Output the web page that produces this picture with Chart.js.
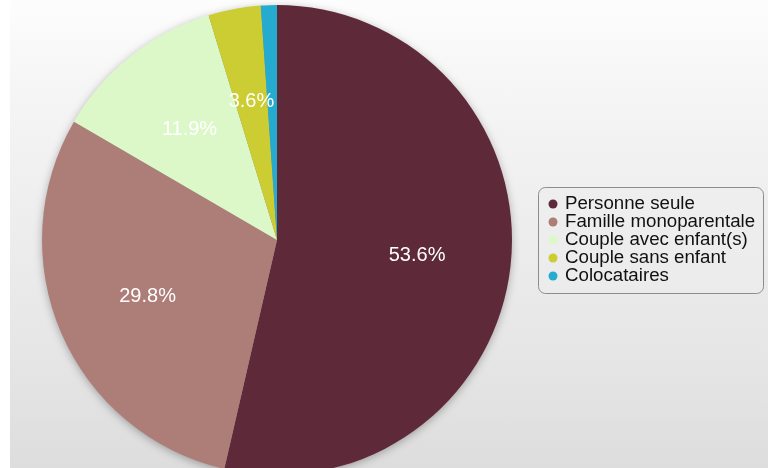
<!DOCTYPE html>
<html>
<head>
<meta charset="utf-8">
<script src="https://cdn.jsdelivr.net/npm/chart.js@4/dist/chart.umd.min.js"></script>
<style>
  html, body { margin: 0; padding: 0; background: #ffffff; overflow: hidden; }
  #bg {
    position: absolute; left: 10px; top: 0; width: 758px; height: 468px;
    background: linear-gradient(to bottom, #fdfdfd 0%, #f5f5f5 20%, #e6e6e6 75%, #dddddd 100%);
  }
  #chart { position: absolute; left: 0; top: 0; }
</style>
</head>
<body>
<div id="bg"></div>
<canvas id="chart" width="768" height="480"></canvas>
<script>
// ===============================
// Data
// ===============================
const labels = [
  "Personne seule",
  "Famille monoparentale",
  "Couple avec enfant(s)",
  "Couple sans enfant",
  "Colocataires",
];
const values = [53.6, 29.8, 11.9, 3.6, 1.1];
const colors = ["#5e2a3a", "#ad7d78", "#ddf8c8", "#cccc33", "#26abd0"];

// soft shadow under the whole pie
const pieShadow = {
  id: "pieShadow",
  beforeDatasetsDraw(chart) {
    const arc = chart.getDatasetMeta(0).data[0];
    if (!arc) return;
    const ctx = chart.ctx;
    ctx.save();
    ctx.shadowColor = "rgba(0,0,0,0.35)";
    ctx.shadowBlur = 10;
    ctx.shadowOffsetY = 2;
    ctx.fillStyle = "#888888";
    ctx.beginPath();
    ctx.arc(arc.x, arc.y, arc.outerRadius - 1, 0, Math.PI * 2);
    ctx.fill();
    ctx.restore();
  },
};

// percentage labels inside the slices
const sliceLabels = {
  id: "sliceLabels",
  afterDatasetsDraw(chart) {
    const ctx = chart.ctx;
    const meta = chart.getDatasetMeta(0);
    ctx.save();
    ctx.font = "20px 'Liberation Sans', Arial, sans-serif";
    ctx.fillStyle = "#ffffff";
    ctx.textAlign = "center";
    ctx.textBaseline = "middle";
    meta.data.forEach((arc, i) => {
      if (values[i] < 2) return;
      const p = arc.getProps(["x", "y", "startAngle", "endAngle", "outerRadius"], true);
      const mid = (p.startAngle + p.endAngle) / 2;
      const r = p.outerRadius * 0.6;
      ctx.fillText(values[i].toFixed(1) + "%", p.x + Math.cos(mid) * r, p.y + Math.sin(mid) * r);
    });
    ctx.restore();
  },
};

// boxed legend on the right
const boxLegend = {
  id: "boxLegend",
  afterDraw(chart) {
    const ctx = chart.ctx;
    const x = 538.5, y = 187.5, w = 225, h = 106, rad = 7;
    ctx.save();
    ctx.beginPath();
    ctx.roundRect(x, y, w, h, rad);
    ctx.fillStyle = "rgba(238,238,238,0.5)";
    ctx.fill();
    ctx.strokeStyle = "#8c8c8c";
    ctx.lineWidth = 1;
    ctx.stroke();

    ctx.font = "18.7px 'Liberation Sans', Arial, sans-serif";
    ctx.textAlign = "left";
    ctx.textBaseline = "alphabetic";
    labels.forEach((label, i) => {
      const cy = 204 + i * 18;
      ctx.beginPath();
      ctx.arc(553, cy, 4.5, 0, Math.PI * 2);
      ctx.fillStyle = colors[i];
      ctx.fill();
      ctx.fillStyle = "#111111";
      ctx.fillText(label, 565, cy + 5);
    });
    ctx.restore();
  },
};

new Chart(document.getElementById("chart"), {
  type: "pie",
  data: {
    labels,
    datasets: [
      {
        data: values,
        backgroundColor: colors,
        borderWidth: 0,
      },
    ],
  },
  options: {
    responsive: false,
    animation: false,
    layout: {
      padding: { left: 42, top: 5, right: 256, bottom: 5 },
    },
    plugins: {
      legend: { display: false },
      tooltip: { enabled: false },
    },
  },
  plugins: [pieShadow, sliceLabels, boxLegend],
});
</script>
</body>
</html>
